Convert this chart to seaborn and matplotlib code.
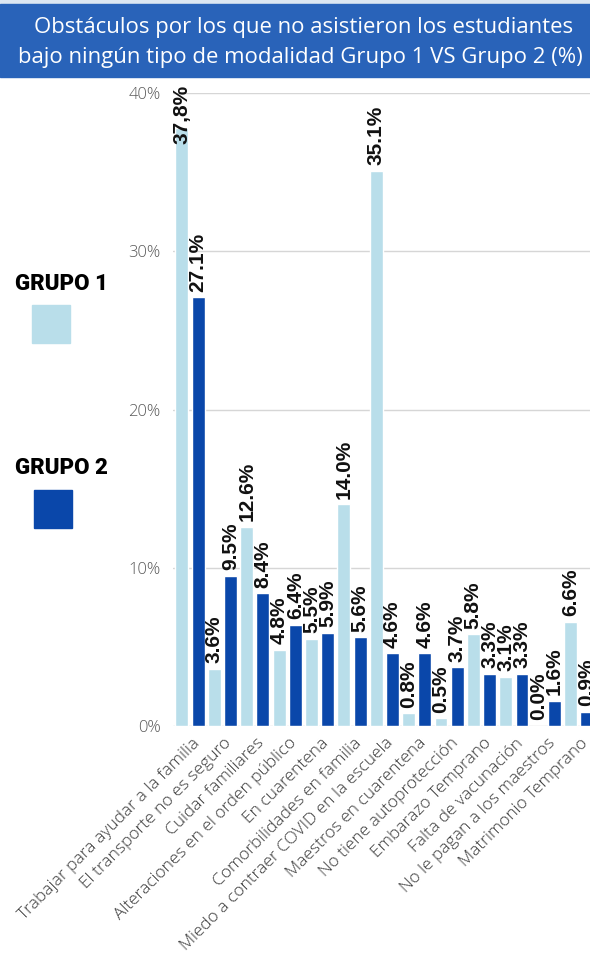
import matplotlib
matplotlib.use("Agg")
import matplotlib.pyplot as plt
from matplotlib.patches import Rectangle
from matplotlib.transforms import ScaledTranslation
import seaborn as sns
import pandas as pd

categories = [
    "Trabajar para ayudar a la familia",
    "El transporte no es seguro",
    "Cuidar familiares",
    "Alteraciones en el orden público",
    "En cuarentena",
    "Comorbilidades en familia",
    "Miedo a contraer COVID en la escuela",
    "Maestros en cuarentena",
    "No tiene autoprotección",
    "Embarazo Temprano",
    "Falta de vacunación",
    "No le pagan a los maestros",
    "Matrimonio Temprano",
]
grupo1 = [37.8, 3.6, 12.6, 4.8, 5.5, 14.0, 35.1, 0.8, 0.5, 5.8, 3.1, 0.0, 6.6]
grupo2 = [27.1, 9.5, 8.4, 6.4, 5.9, 5.6, 4.6, 4.6, 3.7, 3.3, 3.3, 1.6, 0.9]
labels1 = ["37,8%", "3.6%", "12.6%", "4.8%", "5.5%", "14.0%", "35.1%", "0.8%",
           "0.5%", "5.8%", "3.1%", "0.0%", "6.6%"]
labels2 = ["27.1%", "9.5%", "8.4%", "6.4%", "5.9%", "5.6%", "4.6%", "4.6%",
           "3.7%", "3.3%", "3.3%", "1.6%", "0.9%"]
series_names = ["GRUPO 1", "GRUPO 2"]
yticks = [0, 10, 20, 30, 40]
ytick_labels = ["0%", "10%", "20%", "30%", "40%"]
title_lines = ["Obstáculos por los que no asistieron los estudiantes",
               "bajo ningún tipo de modalidad Grupo 1 VS Grupo 2 (%)"]

LIGHT = "#B9DEEA"
DARK = "#0A47AA"
BANNER = "#2963B9"

df = pd.DataFrame({
    "categoria": categories * 2,
    "valor": grupo1 + grupo2,
    "grupo": [series_names[0]] * len(categories) + [series_names[1]] * len(categories),
})

sns.set_theme(style="white")
plt.rcParams["font.family"] = ["Open Sans", "DejaVu Sans"]

W, H = 590, 956
fig = plt.figure(figsize=(W / 100, H / 100), dpi=100)
ax = fig.add_axes([173 / W, (H - 726) / H, (W - 173) / W, (726 - 93) / H])

sns.barplot(data=df, x="categoria", y="valor", hue="grupo",
            palette={series_names[0]: LIGHT, series_names[1]: DARK},
            width=1.0, gap=0.2, saturation=1, legend=False, ax=ax, zorder=2)

ax.set_ylim(0, 40)
ax.set_xlim(-0.525, 12.35)
ax.set_yticks(yticks)
ax.set_yticklabels(ytick_labels, fontsize=12, color="#5A5A5A", fontweight="light")
ax.tick_params(axis="y", length=0, pad=9)
ax.tick_params(axis="x", length=0, pad=2)
ax.set_xlabel("")
ax.set_ylabel("")
for s in ax.spines.values():
    s.set_visible(False)
ax.grid(axis="y", color="#D6D6D6", linewidth=1, zorder=0)
ax.set_axisbelow(True)

ax.set_xticks(range(len(categories)))
ax.set_xticklabels(categories, rotation=45, ha="right", va="center",
                   rotation_mode="anchor", fontsize=12.5, color="#3A3A3A",
                   fontweight="light")
for lbl in ax.get_xticklabels():
    lbl.set_transform(lbl.get_transform() + ScaledTranslation(7 / 100, -12 / 100, fig.dpi_scale_trans))

lab_kw = dict(rotation=90, fontsize=15, fontweight="bold", color="#111111",
              family=["Liberation Sans", "DejaVu Sans"], clip_on=False)
for cont, labs in zip(ax.containers, [labels1, labels2]):
    anns = ax.bar_label(cont, labels=labs, padding=4, **lab_kw)
    for ann, v in zip(anns, cont.datavalues):
        ann.set_annotation_clip(False)
        if v > 36:
            ann.xy = (ann.xy[0], 40.5)
            ann.xyann = (0, 0)
            ann.set_verticalalignment("top")
            ann.set_zorder(5)

# title banner
fig.add_artist(Rectangle((0, (H - 4) / H), 1, 4 / H, transform=fig.transFigure,
                         color="#DCE7F2", zorder=0))
fig.add_artist(Rectangle((0, (H - 77) / H), 1, 73 / H, transform=fig.transFigure,
                         color=BANNER, zorder=1))
fig.text(304 / W, (H - 27) / H, title_lines[0], ha="center", va="center",
         color="white", fontsize=15.9, zorder=2)
fig.text(300 / W, (H - 57) / H, title_lines[1], ha="center", va="center",
         color="white", fontsize=15.9, zorder=2)

# legend
for name, col, ty, sq in [(series_names[0], LIGHT, 284, (32, 305)),
                          (series_names[1], DARK, 468, (34, 490))]:
    fig.text(15 / W, (H - ty) / H, name, ha="left", va="center", color="black",
             fontsize=16, fontweight="black",
             family=["Roboto", "Liberation Sans", "DejaVu Sans"])
    fig.add_artist(Rectangle((sq[0] / W, (H - sq[1] - 38) / H), 38 / W, 38 / H,
                             transform=fig.transFigure, color=col))

fig.savefig("out.png", dpi=100)
